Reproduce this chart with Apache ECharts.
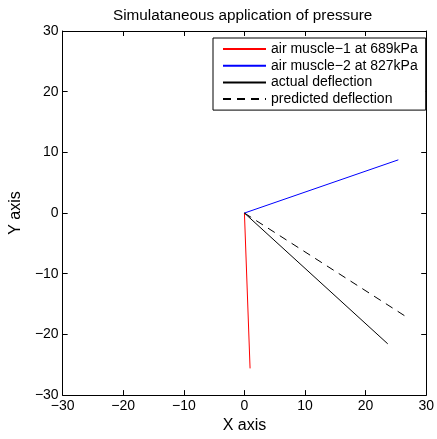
<!DOCTYPE html>
<html><head><meta charset="utf-8">
<script src="https://cdn.jsdelivr.net/npm/echarts@6/dist/echarts.min.js"></script>
<style>html,body{margin:0;padding:0;background:#fff}#c{width:437px;height:439px}</style>
</head><body><div id="c"></div>
<script>
const seriesNames = ['air muscle\u22121 at 689kPa', 'air muscle\u22122 at 827kPa', 'actual deflection', 'predicted deflection'];
const muscle1 = [[0, 0], [0.93, -25.6]];
const muscle2 = [[0, 0], [25.4, 8.77]];
const actual = [[0, 0], [23.65, -21.55]];
const predicted = [[0, 0], [26.4, -16.9]];
const axisMin = -30, axisMax = 30, axisStep = 10;

const font = 'Liberation Sans, Arial, sans-serif';
const fmt = v => String(v).replace('-', '\u2212');
const chart = echarts.init(document.getElementById('c'), null, {renderer: 'canvas'});
const lbl = (m) => ({color: '#000', fontFamily: font, fontSize: 14, formatter: fmt, margin: m});
const baseAxis = (extra) => Object.assign({
  type: 'value', min: axisMin, max: axisMax, interval: axisStep,
  axisLine: {show: true, onZero: false, lineStyle: {color: '#000', width: 1}},
  axisTick: {show: true, inside: true, length: 5, lineStyle: {color: '#000'}},
  splitLine: {show: false},
  axisLabel: lbl(4)
}, extra);
chart.setOption({
  animation: false,
  backgroundColor: '#fff',
  title: {text: 'Simulataneous application of pressure', left: 108, top: 3,
    textStyle: {fontFamily: font, fontSize: 15.3, fontWeight: 'normal', color: '#000'}},
  grid: {left: 62, right: 7, top: 31, bottom: 41},
  legend: {
    orient: 'vertical', left: 213, top: 38, padding: [4, 8, 4, 9],
    itemWidth: 43, itemHeight: 14, itemGap: 2.7,
    borderColor: '#000', borderWidth: 1, backgroundColor: '#fff',
    itemStyle: {opacity: 0},
    textStyle: {fontFamily: font, fontSize: 14, color: '#000'},
    data: seriesNames
  },
  xAxis: [
    baseAxis({position: 'bottom', name: 'X axis', nameLocation: 'middle', nameGap: 16,
      nameTextStyle: {fontFamily: font, fontSize: 16, color: '#000'}, axisLabel: lbl(4)}),
    baseAxis({position: 'top', axisLabel: {show: false}})
  ],
  yAxis: [
    baseAxis({position: 'left', name: 'Y axis', nameLocation: 'middle', nameGap: 28,
      nameTextStyle: {fontFamily: font, fontSize: 16, color: '#000'}, axisLabel: lbl(4)}),
    baseAxis({position: 'right', axisLabel: {show: false}})
  ],
  series: [
    {name: seriesNames[0], type: 'line', data: muscle1, symbol: 'none', lineStyle: {color: '#ff0000', width: 1}, itemStyle: {color: '#ff0000'}},
    {name: seriesNames[1], type: 'line', data: muscle2, symbol: 'none', lineStyle: {color: '#0000ff', width: 1}, itemStyle: {color: '#0000ff'}},
    {name: seriesNames[2], type: 'line', data: actual, symbol: 'none', lineStyle: {color: '#000', width: 1}, itemStyle: {color: '#000'}},
    {name: seriesNames[3], type: 'line', data: predicted, symbol: 'none', lineStyle: {color: '#000', width: 1, type: [8, 6]}, itemStyle: {color: '#000'}}
  ]
});
</script></body></html>
